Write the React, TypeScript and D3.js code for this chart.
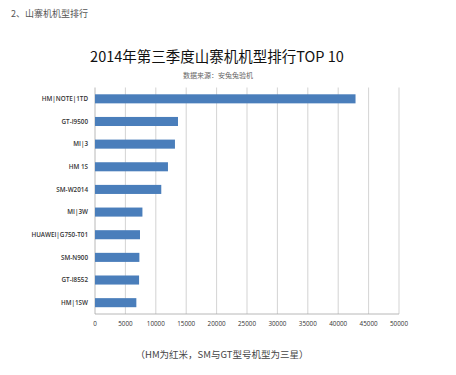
import React from "react";
import * as d3 from "d3";

const categories = [
  "HM|NOTE|1TD",
  "GT-I9500",
  "MI|3",
  "HM 1S",
  "SM-W2014",
  "MI|3W",
  "HUAWEI|G750-T01",
  "SM-N900",
  "GT-I8552",
  "HM|1SW",
];
const values = [42850, 13650, 13150, 12000, 10900, 7800, 7400, 7300, 7250, 6800];
const ticks = [0, 5000, 10000, 15000, 20000, 25000, 30000, 35000, 40000, 45000, 50000];

const W = 456;
const H = 375;
const M = { left: 95, right: 57, top: 87.5, bottom: 61 };

export default function App() {
  const x = d3.scaleLinear().domain([0, 50000]).range([M.left, W - M.right]);
  const y = d3
    .scaleBand<string>()
    .domain(categories)
    .range([M.top, H - M.bottom])
    .paddingInner(0.6)
    .paddingOuter(0.3);
  const cjk = "'Noto Sans CJK SC', 'Noto Sans', sans-serif";
  const lat = "'Open Sans', 'Noto Sans', sans-serif";
  const bottom = H - M.bottom;
  return (
    <svg
      width={W}
      height={H}
      style={{ position: "absolute", left: 0, top: 0, background: "#fff" }}
    >
      <rect x={0} y={0} width={W} height={H} fill="#fff" />
      <text x={11} y={17} fontSize={9} fill="#555" fontFamily={cjk}>
        2、山寨机机型排行
      </text>
      <text x={217} y={62} fontSize={14.5} fill="#111" fontFamily={cjk} textAnchor="middle">
        2014年第三季度山寨机机型排行TOP 10
      </text>
      <text x={218} y={77.5} fontSize={7} fill="#666" fontFamily={cjk} textAnchor="middle">
        数据来源：安兔兔验机
      </text>
      {ticks.map((t) => (
        <line
          key={t}
          x1={x(t)}
          x2={x(t)}
          y1={M.top}
          y2={bottom}
          stroke={t === 0 ? "#a6a6a6" : "#c8c8c8"}
          strokeWidth={0.8}
        />
      ))}
      <line x1={x(0)} x2={x(50000)} y1={bottom} y2={bottom} stroke="#a6a6a6" strokeWidth={0.8} />
      {categories.map((c, i) => (
        <rect
          key={c}
          x={x(0)}
          y={y(c)!}
          width={x(values[i]) - x(0)}
          height={y.bandwidth()}
          fill="#4a7ebb"
        />
      ))}
      {categories.map((c) => (
        <text
          key={c}
          x={88}
          y={y(c)! + y.bandwidth() / 2}
          dy="0.35em"
          fontSize={6.3}
          fontWeight={600}
          fill="#333"
          fontFamily={lat}
          textAnchor="end"
        >
          {c}
        </text>
      ))}
      {ticks.map((t) => (
        <text
          key={t}
          x={x(t)}
          y={bottom + 12}
          fontSize={6.3}
          fill="#333"
          fontFamily={lat}
          textAnchor="middle"
        >
          {t}
        </text>
      ))}
      <text x={222} y={358} fontSize={9.5} fill="#444" fontFamily={cjk} textAnchor="middle">
        （HM为红米，SM与GT型号机型为三星）
      </text>
    </svg>
  );
}
